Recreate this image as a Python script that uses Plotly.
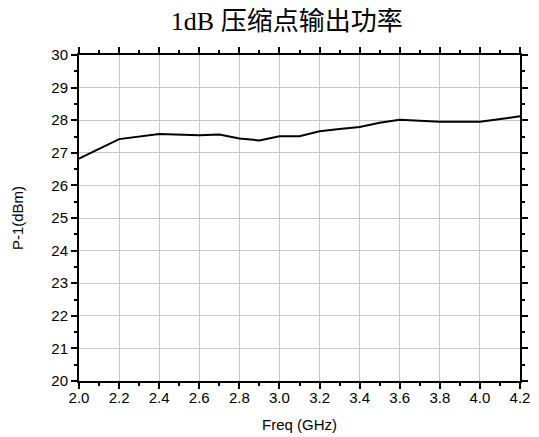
import plotly.graph_objects as go

freq = [2.0, 2.2, 2.4, 2.6, 2.7, 2.8, 2.9, 3.0, 3.1, 3.2, 3.3, 3.4, 3.5, 3.6, 3.8, 4.0, 4.2]
p1db = [26.82, 27.42, 27.58, 27.54, 27.56, 27.44, 27.38, 27.51, 27.51, 27.66, 27.73, 27.79, 27.92, 28.01, 27.95, 27.95, 28.12]

x_ticks = [2.0, 2.2, 2.4, 2.6, 2.8, 3.0, 3.2, 3.4, 3.6, 3.8, 4.0, 4.2]
y_ticks = list(range(20, 31))

fig = go.Figure()
fig.add_trace(go.Scatter(x=freq, y=p1db, mode="lines",
                         line=dict(color="black", width=2), showlegend=False))

axis_common = dict(
    showline=True, linecolor="black", linewidth=2, mirror="allticks",
    ticks="outside", ticklen=6, tickwidth=2, tickcolor="black",
    showgrid=True, gridcolor="#c8c8c8", gridwidth=1, zeroline=False,
    automargin=False,
    tickfont=dict(family="Liberation Sans, Arial", size=15, color="black"),
)

fig.update_xaxes(range=[2.0, 4.2], tickvals=x_ticks,
                 ticktext=[f"{v:.1f}" for v in x_ticks],
                 ticklabelstandoff=-4,
                 minor=dict(ticks="outside", ticklen=3, tickwidth=2, tickcolor="black", dtick=0.1, showgrid=False),
                 title=dict(text="Freq (GHz)", font=dict(family="Liberation Sans, Arial", size=15, color="black"), standoff=14),
                 **axis_common)
fig.update_yaxes(range=[20, 30], tickvals=y_ticks,
                 minor=dict(ticks="outside", ticklen=3, tickwidth=2, tickcolor="black", dtick=0.5, showgrid=False),
                 title=dict(text="P-1(dBm)", font=dict(family="Liberation Sans, Arial", size=15, color="black"), standoff=24),
                 **axis_common)

fig.update_layout(
    width=531, height=429,
    margin=dict(l=71, r=19, t=47, b=56),
    plot_bgcolor="white", paper_bgcolor="white",
    title=dict(text="1dB 压缩点输出功率", x=0.525, xanchor="center", y=0.97, yanchor="middle",
               font=dict(family="Liberation Serif, Noto Sans CJK SC", size=26, color="black", weight="normal")),
)

fig.write_html("out.html")
